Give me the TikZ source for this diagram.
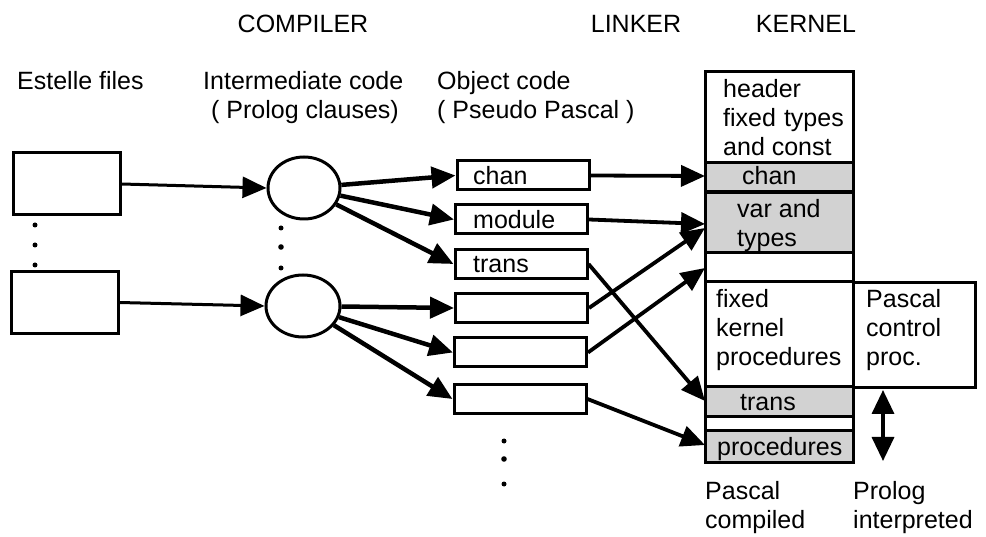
\documentclass[tikz,border=0pt]{standalone}
\usepackage{fontspec}
\setmainfont{Liberation Sans}
\usetikzlibrary{arrows.meta,shapes.geometric}
\begin{document}
\begin{tikzpicture}[x=1pt,y=-1pt,
  txt/.style={anchor=base west,inner sep=0pt,font=\fontsize{25}{29}\selectfont,align=left},
  ctxt/.style={anchor=base,inner sep=0pt,font=\fontsize{25}{29}\selectfont},
  filebox/.style={draw,line width=3pt,minimum width=107pt,minimum height=62pt,inner sep=0pt},
  objbox/.style={draw,line width=3pt,minimum width=132pt,minimum height=29pt,inner sep=0pt},
  ell/.style={draw,ellipse,line width=3pt,minimum width=72pt,minimum height=62pt,inner sep=0pt},
  tip/.style={-{Triangle[length=24pt,width=21pt]}},
  arrA/.style={tip,line width=3pt},
  arrB/.style={tip,line width=4.5pt},
  arrC/.style={tip,line width=3.8pt},
  band/.style={fill=gray!35},
  dot/.style={fill=black}
]
\useasboundingbox (0,0) rectangle (986,537);

% headings
\node[ctxt] (hcomp) at (303,33) {COMPILER};
\node[ctxt] (hlink) at (636,33) {LINKER};
\node[ctxt] (hkern) at (806,33) {KERNEL};

\node[txt] (hest) at (17,90) {Estelle files};
\node[txt] (hint) at (203,119) {Intermediate code\\\hspace*{8pt}( Prolog clauses)};
\node[txt] (hobj) at (437,119) {Object code\\( Pseudo Pascal )};

% Estelle files
\node[filebox] (f1) at (66.5,184) {};
\node[filebox] (f2) at (64.5,302.5) {};
\fill[dot] (35,225) circle (2.5) (35,245) circle (2.5) (35,265) circle (2.5);

% ellipses
\node[ell] (e1) at (304,188) {};
\node[ell,minimum width=74pt] (e2) at (303,306) {};
\fill[dot] (281,228) circle (2.5) (281,247) circle (2.8) (281,268) circle (2.5);

% object boxes
\node[objbox] (o1) at (523,175.5) {};
\node[objbox] (o2) at (521.5,219.5) {};
\node[objbox] (o3) at (521,264) {};
\node[objbox] (o4) at (521.5,308) {};
\node[objbox] (o5) at (520.5,352.5) {};
\node[objbox] (o6) at (520,399) {};
\node[txt] (t1) at (473,185) {chan};
\node[txt] (t2) at (473,229) {module};
\node[txt] (t3) at (473,273) {trans};
\fill[dot] (504,441) circle (2.5) (504,459) circle (2.8) (504,484) circle (2.5);

% kernel
\fill[band] (705,163) rectangle (853,253);
\fill[band] (705,387) rectangle (853,417);
\fill[band] (705,431) rectangle (853,462);
\node[draw,line width=3pt,minimum width=148pt,minimum height=390pt,inner sep=0pt] (kern) at (779,267) {};
\draw[line width=3pt] (705,163) -- (853,163);
\draw[line width=4pt] (705,192) -- (853,192);
\draw[line width=3pt] (705,253) -- (853,253);
\draw[line width=3pt] (705,282) -- (853,282);
\draw[line width=3pt] (705,387) -- (853,387);
\draw[line width=3pt] (705,417) -- (853,417);
\draw[line width=3pt] (705,431) -- (853,431);
\node[draw,line width=3pt,minimum width=122pt,minimum height=105pt,inner sep=0pt] (pcp) at (914,335) {};

\node[txt] (kh) at (723,156) {header\\fixed\hspace{8pt}types\\and const};
\node[txt] (kc) at (742,185) {chan};
\node[txt] (kv) at (737,247) {var and\\types};
\node[txt] (kf) at (716,366) {fixed\\kernel\\procedures};
\node[txt] (kp) at (866,366) {Pascal\\control\\proc.};
\node[txt] (kt) at (740,410) {trans};
\node[txt] (kpr) at (717,455) {procedures};

\node[txt] (bp) at (705,528) {Pascal\\compiled};
\node[txt] (bq) at (853,528) {Prolog\\interpreted};

% connectors
\draw[arrA] (f1.east) -- (e1.west);
\draw[arrA] (f2.east) -- (e2.west);
\draw[arrB] (e1) -- (o1.west);
\draw[arrB] (e1) -- (o2.west);
\draw[arrB] (e1) -- (o3.west);
\draw[arrB] (e2) -- (o4.west);
\draw[arrB] (e2) -- (o5.west);
\draw[arrB] (e2) -- (o6.west);

\coordinate (k1) at (705,176);
\coordinate (k2) at (705,224);
\coordinate (k3) at (705,228);
\coordinate (k4) at (705,268);
\coordinate (k5) at (705,401);
\coordinate (k6) at (705,445);
\draw[arrC] (o1.east) -- (k1);
\draw[arrC] (o2.east) -- (k2);
\draw[arrC] (o4.east) -- (k3);
\draw[arrC] (o5.east) -- (k4);
\draw[arrC] (o3.east) -- (k5);
\draw[arrC] (o6.east) -- (k6);

\coordinate (da) at (883,390);
\coordinate (db) at (883,461);
\draw[line width=3.5pt,{Triangle[length=24pt,width=22pt]}-{Triangle[length=24pt,width=22pt]}] (da) -- (db);
\end{tikzpicture}
\end{document}
